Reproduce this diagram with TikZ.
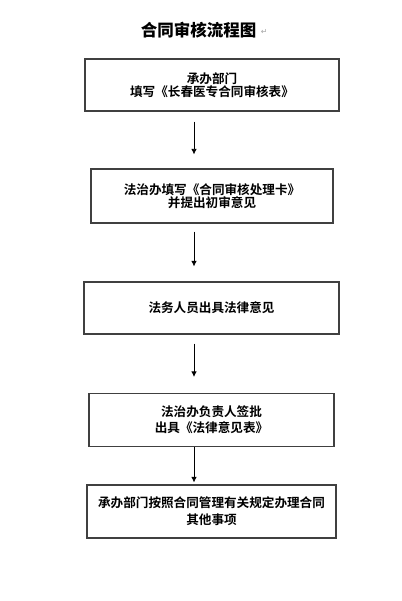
\documentclass[tikz,border=0pt]{standalone}
\usepackage{fontspec}
\usepackage{tikz}
\usetikzlibrary{arrows.meta}
\newfontfamily\cjk{Noto Sans CJK SC Bold}
\newfontfamily\cjktitle{Noto Sans CJK SC Black}
\newfontfamily\parmarkfont{DejaVu Sans}

\begin{document}
\begin{tikzpicture}[x=1pt,y=-1pt,
  stepbox/.style={draw=black!75,line width=1.1pt,align=center,inner sep=0pt,
    font=\cjk\fontsize{12.6}{12.5}\selectfont},
  flow/.style={-{Latex[length=5.5pt,width=5.5pt]},black,line width=0.8pt}]
\useasboundingbox (0,0) rectangle (401,601);

\node[font=\cjktitle\fontsize{16.5}{18}\selectfont] (T) at (198.5,30) {合同审核流程图};
\node[anchor=west,inner sep=0pt,xshift=1pt,yshift=-2pt,text=black!35,font=\parmarkfont\fontsize{8}{8}\selectfont] (P) at (T.east) {↵};

\node[stepbox,minimum width=254,minimum height=52] (B1) at (212,85) {承办部门\\填写《长春医专合同审核表》};	
\node[stepbox,minimum width=242,minimum height=54] (B2) at (212,196) {法治办填写《合同审核处理卡》\\并提出初审意见};
\node[stepbox,minimum width=255,minimum height=52] (B3) at (211.5,308) {法务人员出具法律意见};
\node[stepbox,minimum width=245,minimum height=53] (B4) at (211.5,420) {法治办负责人签批\\[3.5pt]出具《法律意见表》};
\node[stepbox,minimum width=249,minimum height=53] (B5) at (211.5,511.5) {承办部门按照合同管理有关规定办理合同\\[4.5pt]其他事项};

\coordinate (L) at (194,0);

\draw[flow,shorten <=10pt,shorten >=14pt] (B1.south -| L) -- (B2.north -| L);
\draw[flow,shorten <=8pt,shorten >=15pt] (B2.south -| L) -- (B3.north -| L);
\draw[flow,shorten <=9pt,shorten >=16pt] (B3.south -| L) -- (B4.north -| L);
\draw[flow,shorten >=2pt] (B4.south -| L) -- (B5.north -| L);
\end{tikzpicture}
\end{document}
